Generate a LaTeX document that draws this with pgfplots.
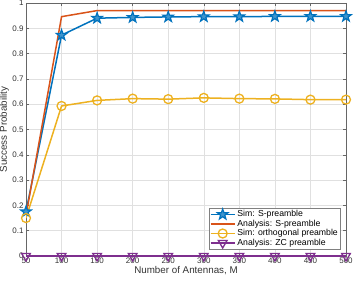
\documentclass[border=0pt]{standalone}
\usepackage{pgfplots}
\pgfplotsset{compat=1.18}
\usepackage{fontspec}
\setmainfont{Liberation Sans}
\definecolor{mblue}{rgb}{0,0.447,0.741}
\definecolor{mred}{rgb}{0.85,0.325,0.098}
\definecolor{myellow}{rgb}{0.929,0.694,0.125}
\definecolor{mpurple}{rgb}{0.494,0.184,0.556}
\pgfdeclareplotmark{pentagram}{%
  \pgfpathmoveto{\pgfqpointpolar{90}{\pgfplotmarksize}}%
  \pgfpathlineto{\pgfqpointpolar{126}{0.4\pgfplotmarksize}}%
  \pgfpathlineto{\pgfqpointpolar{162}{\pgfplotmarksize}}%
  \pgfpathlineto{\pgfqpointpolar{198}{0.4\pgfplotmarksize}}%
  \pgfpathlineto{\pgfqpointpolar{234}{\pgfplotmarksize}}%
  \pgfpathlineto{\pgfqpointpolar{270}{0.4\pgfplotmarksize}}%
  \pgfpathlineto{\pgfqpointpolar{306}{\pgfplotmarksize}}%
  \pgfpathlineto{\pgfqpointpolar{342}{0.4\pgfplotmarksize}}%
  \pgfpathlineto{\pgfqpointpolar{18}{\pgfplotmarksize}}%
  \pgfpathlineto{\pgfqpointpolar{54}{0.4\pgfplotmarksize}}%
  \pgfpathclose
  \pgfusepathqfillstroke
}
\begin{document}
\begin{tikzpicture}
\begin{axis}[
  scale only axis,
  width=320pt, height=253pt,
  xmin=50, xmax=500, ymin=0, ymax=1,
  xtick={50,100,...,500},
  ytick={0,0.1,...,1},
  yticklabels={0,0.1,0.2,0.3,0.4,0.5,0.6,0.7,0.8,0.9,1},
  tick align=inside,
  major tick length=3pt,
  tick style={color=black!60, line width=0.5pt},
  axis line style={color=black!60, line width=0.6pt},
  grid=major,
  grid style={color=black!12, line width=0.5pt},
  ticklabel style={font=\fontsize{8}{8}\selectfont, color=black!80},
  /pgf/number format/assume math mode=true,
  xlabel={Number of Antennas, M},
  ylabel={Success Probability},
  label style={font=\fontsize{9.8}{10}\selectfont, color=black!80},
  xlabel style={yshift=4pt},
  ylabel style={yshift=-3.5pt},
  xticklabel style={yshift=1.5pt},
  yticklabel style={xshift=1pt},
  legend style={at={(0.983,0.025)}, anchor=south east, font=\fontsize{8.7}{9}\selectfont,
    draw=black!50, line width=0.5pt, inner sep=0.5pt, row sep=-2.3pt, legend cell align=left},
  legend image code/.code={\draw[mark repeat=2,mark phase=2] plot coordinates {(0cm,0cm) (0.42cm,0cm) (0.84cm,0cm)};},
]
\addplot[color=mblue, line width=1.5pt, mark=pentagram, mark size=5.5pt, mark options={line width=1.2pt, fill=mblue!75}] coordinates {
(50,0.175) (100,0.873) (150,0.940) (200,0.943) (250,0.945) (300,0.946) (350,0.946) (400,0.947) (450,0.947) (500,0.947)};
\addlegendentry{Sim: S-preamble}
\addplot[color=mred, line width=1.5pt] coordinates {
(50,0.16) (100,0.946) (150,0.970) (200,0.970) (250,0.970) (300,0.970) (350,0.970) (400,0.970) (450,0.970) (500,0.970)};
\addlegendentry{Analysis: S-preamble}
\addplot[color=myellow, line width=1.5pt, mark=o, mark size=4.5pt, mark options={line width=1.3pt}] coordinates {
(50,0.150) (100,0.593) (150,0.615) (200,0.622) (250,0.620) (300,0.625) (350,0.622) (400,0.621) (450,0.618) (500,0.618)};
\addlegendentry{Sim: orthogonal preamble}
\addplot[color=mpurple, line width=1.5pt, mark=triangle, mark size=5pt, mark options={line width=1.3pt, rotate=180}] coordinates {
(50,0) (100,0) (150,0) (200,0) (250,0) (300,0) (350,0) (400,0) (450,0) (500,0)};
\addlegendentry{Analysis: ZC preamble}
\end{axis}
\pgfresetboundingbox
\path (-26pt,-25pt) rectangle (327pt,256pt);
\end{tikzpicture}
\end{document}
